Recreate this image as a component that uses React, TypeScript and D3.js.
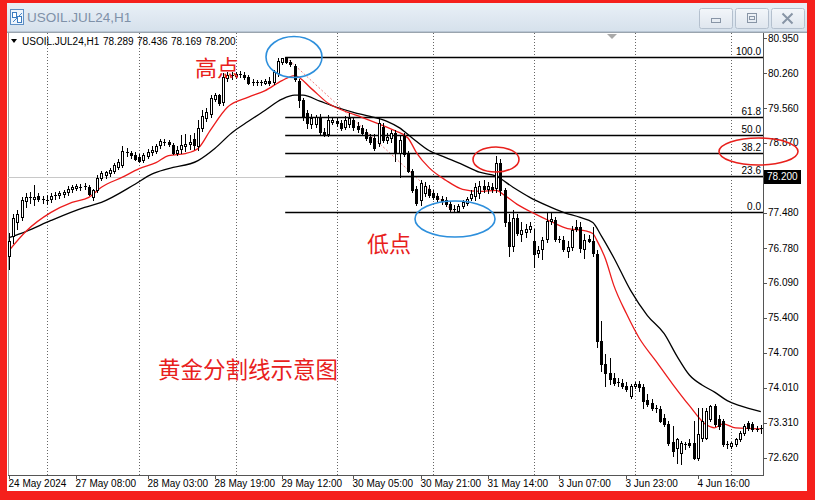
import React from "react";
import * as d3 from "d3";

// ---------- data ----------
const opens = [
  76.63, 77.03, 77.29, 77.39, 77.71, 77.77, 77.75, 77.81, 77.75, 77.73,
  77.75, 77.81, 77.83, 77.85, 77.89, 77.95, 77.97, 77.99, 77.99, 77.99,
  77.79, 77.93, 78.17, 78.23, 78.27, 78.32, 78.40, 78.44, 78.70, 78.68,
  78.64, 78.60, 78.54, 78.62, 78.70, 78.72, 78.82, 78.89, 78.89, 78.82,
  78.68, 78.76, 78.80, 78.84, 78.95, 78.80, 79.17, 79.36, 79.44, 79.74,
  79.82, 79.68, 80.17, 80.23, 80.21, 80.25, 80.23, 80.19, 80.09, 80.07,
  80.09, 80.07, 80.11, 80.09, 80.27, 80.48, 80.57, 80.48, 80.40, 80.11,
  79.72, 79.46, 79.25, 79.25, 79.38, 79.09, 79.05, 79.28, 79.30, 79.26,
  79.19, 79.25, 79.32, 79.21, 79.17, 79.09, 78.99, 78.97, 78.86, 79.19,
  78.93, 78.97, 79.07, 78.68, 79.01, 78.66, 78.32, 77.95, 77.73, 77.87,
  77.95, 77.87, 77.81, 77.75, 77.73, 77.65, 77.55, 77.51, 77.61, 77.67,
  77.77, 77.81, 77.87, 78.01, 77.95, 77.99, 77.97, 78.48, 77.93, 77.29,
  76.83, 77.37, 77.07, 77.11, 77.17, 76.93, 76.69, 76.77, 76.97, 77.31,
  77.33, 76.97, 76.95, 76.73, 76.81, 77.21, 77.21, 76.77, 76.97, 76.93,
  76.67, 74.94, 74.48, 74.30, 74.20, 74.12, 74.10, 74.04, 73.84, 74.04,
  74.08, 74.02, 73.77, 73.71, 73.61, 73.59, 73.41, 73.29, 72.93, 72.81,
  72.71, 72.87, 72.91, 72.91, 72.61, 73.01, 73.01, 73.39, 73.65, 73.39,
  73.35, 72.89, 72.85, 72.89, 72.99, 73.11, 73.31, 73.29, 73.19, 73.19,
];
const highs = [
  77.09, 77.45, 77.53, 77.79, 77.87, 77.89, 78.03, 77.87, 77.81, 77.83,
  77.87, 77.89, 77.91, 77.93, 78.01, 78.03, 78.05, 78.05, 78.07, 78.03,
  77.95, 78.23, 78.32, 78.32, 78.38, 78.48, 78.56, 78.80, 78.78, 78.72,
  78.70, 78.66, 78.68, 78.76, 78.80, 78.84, 78.95, 78.95, 78.93, 78.86,
  78.80, 79.03, 79.05, 79.03, 79.07, 79.32, 79.52, 79.56, 79.82, 79.87,
  79.85, 80.27, 80.29, 80.29, 80.29, 80.31, 80.29, 80.23, 80.15, 80.13,
  80.13, 80.15, 80.19, 80.33, 80.55, 80.55, 80.57, 80.51, 80.44, 80.15,
  79.76, 79.52, 79.44, 79.42, 79.44, 79.17, 79.42, 79.38, 79.36, 79.32,
  79.40, 79.46, 79.38, 79.28, 79.23, 79.15, 79.05, 79.05, 79.36, 79.26,
  79.07, 79.13, 79.13, 79.03, 79.07, 78.72, 78.36, 78.01, 78.13, 78.09,
  78.03, 77.93, 77.87, 77.81, 77.79, 77.71, 77.63, 77.65, 77.73, 77.79,
  77.93, 78.07, 78.11, 78.13, 78.09, 78.07, 78.62, 78.56, 77.97, 77.45,
  77.53, 77.45, 77.29, 77.25, 77.29, 77.17, 76.83, 77.01, 77.47, 77.49,
  77.39, 77.03, 77.03, 76.93, 77.23, 77.33, 77.29, 77.07, 77.05, 77.21,
  76.75, 75.34, 74.68, 74.60, 74.30, 74.20, 74.18, 74.12, 74.08, 74.12,
  74.14, 74.08, 73.88, 73.79, 73.67, 73.65, 73.49, 73.35, 73.25, 73.01,
  72.95, 72.93, 72.99, 73.35, 73.61, 73.61, 73.61, 73.67, 73.69, 73.47,
  73.39, 72.95, 72.93, 73.01, 73.15, 73.29, 73.35, 73.33, 73.25, 73.27,
];
const lows = [
  76.37, 76.89, 77.17, 77.33, 77.59, 77.67, 77.63, 77.71, 77.67, 77.65,
  77.69, 77.75, 77.77, 77.79, 77.83, 77.89, 77.93, 77.93, 77.95, 77.83,
  77.73, 77.89, 78.13, 78.17, 78.21, 78.27, 78.36, 78.40, 78.62, 78.58,
  78.54, 78.50, 78.50, 78.58, 78.64, 78.68, 78.78, 78.82, 78.80, 78.66,
  78.64, 78.68, 78.72, 78.76, 78.76, 78.74, 79.11, 79.30, 79.38, 79.70,
  79.62, 79.62, 80.11, 80.15, 80.17, 80.19, 80.15, 80.05, 80.03, 80.03,
  80.03, 80.05, 80.03, 80.05, 80.21, 80.44, 80.46, 80.40, 80.11, 79.58,
  79.32, 79.17, 79.17, 79.19, 79.05, 79.01, 79.01, 79.25, 79.21, 79.13,
  79.15, 79.19, 79.13, 79.09, 79.03, 78.93, 78.84, 78.74, 78.80, 78.89,
  78.86, 78.89, 78.52, 78.19, 78.62, 78.29, 77.89, 77.63, 77.63, 77.81,
  77.79, 77.75, 77.71, 77.65, 77.61, 77.51, 77.49, 77.49, 77.57, 77.63,
  77.73, 77.73, 77.77, 77.89, 77.87, 77.89, 77.89, 77.83, 77.23, 76.63,
  76.73, 77.05, 76.93, 77.01, 77.11, 76.41, 76.61, 76.57, 76.91, 77.25,
  76.93, 76.91, 76.73, 76.61, 76.75, 77.13, 76.71, 76.59, 76.91, 76.63,
  74.82, 74.34, 74.04, 74.08, 74.06, 74.04, 74.00, 73.94, 73.81, 74.00,
  73.94, 73.61, 73.65, 73.57, 73.53, 73.33, 73.25, 72.87, 72.65, 72.51,
  72.49, 72.79, 72.83, 72.59, 72.57, 72.95, 72.99, 73.35, 73.25, 73.19,
  72.85, 72.81, 72.81, 72.85, 72.95, 73.07, 73.17, 73.15, 73.15, 73.11,
];
const closes = [
  76.93, 77.37, 77.45, 77.73, 77.79, 77.79, 77.79, 77.75, 77.73, 77.71,
  77.81, 77.83, 77.87, 77.89, 77.95, 77.99, 78.01, 77.97, 78.01, 77.85,
  77.93, 78.17, 78.27, 78.29, 78.34, 78.44, 78.50, 78.72, 78.68, 78.64,
  78.56, 78.52, 78.64, 78.70, 78.74, 78.80, 78.91, 78.89, 78.84, 78.68,
  78.74, 78.82, 78.84, 78.89, 78.82, 79.17, 79.40, 79.48, 79.76, 79.82,
  79.66, 80.19, 80.23, 80.21, 80.25, 80.23, 80.19, 80.07, 80.07, 80.09,
  80.07, 80.11, 80.07, 80.29, 80.49, 80.55, 80.48, 80.44, 80.15, 79.72,
  79.40, 79.26, 79.36, 79.38, 79.09, 79.05, 79.32, 79.32, 79.26, 79.17,
  79.32, 79.36, 79.19, 79.15, 79.07, 78.97, 78.89, 78.78, 79.26, 78.93,
  78.99, 79.07, 78.68, 78.93, 78.66, 78.32, 77.93, 77.67, 78.07, 78.01,
  77.83, 77.79, 77.75, 77.71, 77.65, 77.55, 77.53, 77.61, 77.69, 77.75,
  77.85, 77.99, 78.01, 77.95, 78.01, 77.95, 78.48, 77.93, 77.29, 76.83,
  77.37, 77.09, 77.15, 77.17, 77.23, 76.67, 76.75, 76.95, 77.31, 77.35,
  76.97, 76.95, 76.77, 76.81, 77.15, 77.17, 76.79, 76.95, 76.93, 76.69,
  74.94, 74.48, 74.30, 74.18, 74.10, 74.12, 74.04, 73.98, 74.04, 74.08,
  74.02, 73.75, 73.69, 73.61, 73.59, 73.35, 73.29, 72.91, 72.75, 72.99,
  72.91, 72.89, 72.87, 72.61, 73.09, 73.35, 73.55, 73.65, 73.29, 73.25,
  72.89, 72.87, 72.91, 72.99, 73.11, 73.25, 73.21, 73.19, 73.19, 73.20,
];

// moving averages (red = fast, black = slow), read at sampled bars
const redMaBars = [0, 4, 10, 15, 19, 22, 27, 31, 35, 38, 42, 45, 48, 52, 57, 61, 65, 68, 72, 76, 80, 84, 88, 92, 95, 97, 100, 104, 108, 112, 116, 118, 121, 125, 129, 133, 137, 139, 140, 142, 144, 147, 150, 154, 158, 162, 166, 168, 170, 173, 179];
const redMaVals = [76.73, 77.11, 77.49, 77.69, 77.79, 77.99, 78.19, 78.36, 78.48, 78.62, 78.66, 78.76, 79.13, 79.58, 79.78, 79.91, 80.11, 80.21, 79.95, 79.66, 79.50, 79.38, 79.25, 79.11, 78.97, 78.68, 78.38, 78.13, 77.95, 77.91, 77.93, 77.83, 77.65, 77.47, 77.31, 77.17, 77.13, 77.07, 76.93, 76.57, 76.04, 75.48, 75.00, 74.54, 74.08, 73.65, 73.27, 73.21, 73.29, 73.21, 73.19];
const blackMaBars = [0, 4, 10, 18, 22, 30, 34, 38, 45, 49, 53, 57, 61, 65, 68, 70, 74, 78, 82, 86, 90, 93, 96, 100, 104, 108, 112, 116, 120, 124, 128, 132, 136, 139, 141, 144, 148, 152, 156, 159, 162, 165, 168, 171, 174, 179];
const blackMaVals = [76.99, 77.11, 77.33, 77.59, 77.69, 78.05, 78.25, 78.36, 78.52, 78.76, 79.07, 79.30, 79.52, 79.74, 79.82, 79.82, 79.70, 79.58, 79.48, 79.40, 79.30, 79.17, 78.97, 78.72, 78.58, 78.44, 78.29, 78.21, 77.99, 77.79, 77.63, 77.49, 77.39, 77.29, 77.03, 76.59, 75.94, 75.44, 75.08, 74.64, 74.26, 74.06, 73.92, 73.75, 73.65, 73.53];

const priceTicks = [80.95, 80.26, 79.56, 78.87, 77.48, 76.78, 76.09, 75.4, 74.7, 74.01, 73.31, 72.62];
const timeLabels = ["24 May 2024", "27 May 08:00", "28 May 03:00", "28 May 19:00", "29 May 12:00", "30 May 05:00", "30 May 21:00", "31 May 14:00", "3 Jun 07:00", "3 Jun 23:00", "4 Jun 16:00"];
const timeLabelBars = [0, 16, 33, 49, 65, 82, 98, 114, 131, 147, 164];
const gridBars = [9, 31, 54, 78, 101, 125, 149, 172];

const fibLevels = [0, 23.6, 38.2, 50, 61.8, 100];
const fibHigh = 80.57;
const fibLow = 77.49;
const fibHighBar = 66;
const fibLowBar = 106;
const bidPrice = 78.2;
const headerValues = ["78.289", "78.436", "78.169", "78.200"];

export default function App() {
  const plotL = 8, plotR = 763, plotT = 33, plotB = 475;
  const x = d3.scaleLinear().domain([0, 179]).range([9, 760.8]);
  const y = d3.scaleLinear().domain([72.62, 80.95]).range([457.5, 38.3]);
  const cx = (i: number) => Math.round(x(i)) + 0.5;
  const ry = (p: number) => Math.round(y(p));

  const redLine = d3.line<[number, number]>().x((d) => x(d[0])).y((d) => y(d[1])).curve(d3.curveMonotoneX);
  const redPath = redLine(redMaBars.map((b, k) => [b, redMaVals[k]] as [number, number])) || "";
  const blackPath = redLine(blackMaBars.map((b, k) => [b, blackMaVals[k]] as [number, number])) || "";

  const font = "'Liberation Sans', Arial, sans-serif";
  const cjk = "'Noto Sans CJK SC', sans-serif";
  const red = "#e8201c";
  const blue = "#2d8fdc";

  const candles = opens.map((o, i) => {
    const c = closes[i];
    const h = highs[i];
    const l = lows[i];
    const X = cx(i);
    const top = ry(Math.max(o, c));
    const bot = ry(Math.min(o, c));
    const bull = c >= o;
    return (
      <g key={i}>
        <line x1={X} x2={X} y1={ry(h)} y2={ry(l) + 1} stroke="#000" strokeWidth={1} />
        {bot - top < 2 ? (
          <line x1={X - 1.5} x2={X + 1.5} y1={top + 0.5} y2={top + 0.5} stroke="#000" strokeWidth={1} />
        ) : bull ? (
          <rect x={X - 1} y={top + 0.5} width={2} height={bot - top - 1 + 1} fill="#fff" stroke="#000" strokeWidth={1} />
        ) : (
          <rect x={X - 1.5} y={top} width={3} height={bot - top + 1} fill="#000" />
        )}
      </g>
    );
  });

  const fibX0 = x(fibHighBar) - 1;

  return (
    <svg width={815} height={500} style={{ position: "absolute", left: 0, top: 0, display: "block" }} fontFamily={font}>
      <defs>
        <linearGradient id="titleGrad" x1="0" y1="0" x2="0" y2="1">
          <stop offset="0" stopColor="#e9f0f7" />
          <stop offset="1" stopColor="#d6e1ec" />
        </linearGradient>
        <linearGradient id="btnGrad" x1="0" y1="0" x2="0" y2="1">
          <stop offset="0" stopColor="#f3f6fa" />
          <stop offset="1" stopColor="#dfe6ee" />
        </linearGradient>
        <clipPath id="plotClip">
          <rect x={plotL} y={plotT} width={plotR - plotL} height={plotB - plotT} />
        </clipPath>
      </defs>

      {/* red frame */}
      <rect x={0} y={0} width={815} height={500} fill="#f5201c" />
      {/* window */}
      <rect x={7} y={3} width={800} height={488} fill="#fff" />
      {/* title bar */}
      <rect x={7} y={3} width={800} height={28} fill="url(#titleGrad)" />
      <line x1={7} x2={807} y1={31.5} y2={31.5} stroke="#b9c6d4" />
      {/* icon */}
      <g>
        <rect x={10.5} y={9.5} width={13} height={15} fill="#eef5fc" stroke="#5d8fc4" />
        <rect x={12.5} y={12.5} width={4} height={5} fill="#fff" stroke="#3b7bc0" />
        <rect x={17.5} y={16.5} width={4} height={6} fill="#fff" stroke="#3b7bc0" />
        <line x1={13} x2={22} y1={22} y2={13} stroke="#4a86c6" />
      </g>
      <text x={27} y={22} fontSize={13.5} fill="#7f91a8">USOIL.JUL24,H1</text>
      {/* window buttons */}
      {[699, 735, 771].map((bx, k) => (
        <g key={k}>
          <rect x={bx + 0.5} y={8.5} width={33} height={20} rx={2} fill="url(#btnGrad)" stroke="#b4c0ce" />
        </g>
      ))}
      <rect x={711.5} y={18.5} width={9} height={4} fill="none" stroke="#8895a6" />
      <rect x={747.5} y={13.5} width={9} height={9} fill="none" stroke="#8895a6" />
      <rect x={749.5} y={16.5} width={5} height={3} fill="none" stroke="#8895a6" />
      <path d="M782.5,13.5 L792.5,23.5 M792.5,13.5 L782.5,23.5" stroke="#8895a6" strokeWidth={2} />

      {/* plot frame */}
      <line x1={7} x2={807} y1={32.5} y2={32.5} stroke="#9aa4ae" />
      <line x1={plotL + 0.5} x2={plotL + 0.5} y1={plotT} y2={plotB} stroke="#a0a0a0" />

      {/* grid */}
      {gridBars.map((b) => (
        <line key={b} x1={cx(b)} x2={cx(b)} y1={plotT} y2={plotB} stroke="#666" strokeDasharray="1,2" strokeWidth={1} />
      ))}

      {/* bid line */}
      <line x1={plotL} x2={plotR} y1={ry(bidPrice) + 0.5} y2={ry(bidPrice) + 0.5} stroke="#c8c8c8" strokeWidth={1} />

      <g clipPath="url(#plotClip)">
        {/* fibonacci trend line */}
        <line x1={x(fibHighBar)} y1={y(fibHigh)} x2={x(fibLowBar)} y2={y(fibLow)} stroke="#f08080" strokeDasharray="2,2" strokeWidth={1} />
        {/* fibonacci levels */}
        {fibLevels.map((lv) => {
          const p = fibLow + (fibHigh - fibLow) * (lv / 100);
          const yy = ry(p) + 0.5;
          return <line key={lv} x1={fibX0} x2={plotR} y1={yy} y2={yy} stroke="#000" strokeWidth={1.6} />;
        })}
        {/* moving averages */}
        <path d={blackPath} fill="none" stroke="#000" strokeWidth={1.3} />
        <path d={redPath} fill="none" stroke="#ec1c1c" strokeWidth={1.3} />
        {candles}
      </g>

      {/* fib labels */}
      {fibLevels.map((lv) => {
        const p = fibLow + (fibHigh - fibLow) * (lv / 100);
        return (
          <text key={lv} x={761} y={ry(p) - 2} fontSize={10} textAnchor="end" fill="#000">
            {lv.toFixed(1)}
          </text>
        );
      })}

      {/* header */}
      <path d="M11,39 L17,39 L14,43 Z" fill="#000" />
      <text x={22} y={45} fontSize={10} fill="#000">USOIL.JUL24,H1</text>
      {headerValues.map((v, k) => (
        <text key={k} x={103 + k * 34} y={45} fontSize={10} fill="#000">{v}</text>
      ))}

      {/* chart shift marker */}
      <path d="M607,34 L617,34 L612,39 Z" fill="#a9a9a9" />

      {/* axes */}
      <line x1={plotR + 0.5} x2={plotR + 0.5} y1={plotT} y2={plotB + 1} stroke="#555" />
      <line x1={plotL} x2={plotR + 1} y1={plotB + 0.5} y2={plotB + 0.5} stroke="#555" />
      {priceTicks.map((p) => (
        <g key={p}>
          <line x1={plotR} x2={plotR + 4} y1={ry(p) + 0.5} y2={ry(p) + 0.5} stroke="#555" />
          <text x={768} y={y(p) + 3.5} fontSize={10} fill="#000">{p.toFixed(3)}</text>
        </g>
      ))}
      <rect x={764} y={ry(bidPrice) - 7} width={37} height={14} fill="#000" />
      <text x={767} y={y(bidPrice) + 3.5} fontSize={10} fill="#fff">{bidPrice.toFixed(3)}</text>

      {timeLabels.map((t, k) => {
        const tx = cx(timeLabelBars[k]);
        return (
          <g key={t}>
            <line x1={tx} x2={tx} y1={plotB} y2={plotB + 4} stroke="#555" />
            <text x={tx - 1} y={487} fontSize={10} fill="#000">{t}</text>
          </g>
        );
      })}

      {/* annotations */}
      <ellipse cx={294} cy={57} rx={28} ry={20.5} fill="none" stroke={blue} strokeWidth={1.6} />
      <ellipse cx={455} cy={219} rx={40} ry={18} fill="none" stroke={blue} strokeWidth={1.6} />
      <ellipse cx={496} cy={159.5} rx={23} ry={12.5} fill="none" stroke={red} strokeWidth={1.6} />
      <ellipse cx={758.5} cy={151.5} rx={39.5} ry={13.5} fill="none" stroke={red} strokeWidth={1.6} />

      <text x={195} y={76} fontSize={22} fill={red} fontFamily={cjk}>高点</text>
      <text x={367} y={252} fontSize={22} fill={red} fontFamily={cjk}>低点</text>
      <text x={158} y={378} fontSize={22.5} fill={red} fontFamily={cjk}>黄金分割线示意图</text>
    </svg>
  );
}
